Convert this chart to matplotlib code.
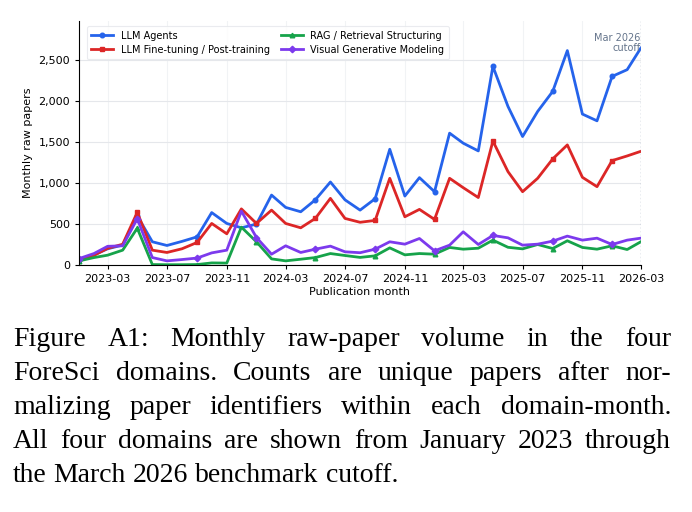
import numpy as np
import pandas as pd
import matplotlib
matplotlib.use('Agg')
import matplotlib.pyplot as plt
import matplotlib.dates as mdates
from matplotlib.ticker import FuncFormatter

# Monthly raw-paper counts, Jan 2023 .. Mar 2026
months = pd.date_range('2023-01-01', '2026-03-01', freq='MS')

llm_agents = [60, 125, 200, 245, 600, 285, 240, 290, 345, 640,
              508, 455, 500, 853, 703, 650, 795, 1012, 795, 670,
              809, 1410, 841, 1065, 894, 1606, 1484, 1390, 2418, 1931,
              1565, 1870, 2114, 2610, 1838, 1756, 2296, 2378, 2640]
llm_finetune = [70, 120, 205, 255, 643, 183, 155, 200, 277, 508,
                382, 685, 508, 670, 508, 455, 569, 813, 569, 522,
                545, 1057, 589, 679, 557, 1057, 943, 823, 1510, 1138,
                894, 1057, 1293, 1463, 1069, 955, 1272, 1329, 1385]
rag = [52, 93, 122, 183, 450, 8, 6, 6, 8, 28,
       26, 463, 285, 77, 53, 73, 93, 142, 118, 95,
       114, 211, 126, 142, 134, 216, 195, 207, 305, 218,
       199, 252, 203, 297, 216, 195, 236, 191, 285]
visual_gen = [80, 142, 230, 236, 565, 93, 53, 69, 87, 150,
              183, 658, 337, 134, 236, 155, 195, 232, 163, 152,
              195, 285, 256, 325, 175, 244, 406, 252, 362, 333,
              244, 256, 293, 354, 305, 329, 252, 305, 329]

SERIES = [
    ('LLM Agents', llm_agents, '#2563eb', 'o'),
    ('LLM Fine-tuning / Post-training', llm_finetune, '#dc2626', 's'),
    ('RAG / Retrieval Structuring', rag, '#16a34a', '^'),
    ('Visual Generative Modeling', visual_gen, '#7c3aed', 'D'),
]

CAPTION = [
    "Figure A1:  Monthly raw-paper volume in the four",
    "ForeSci domains. Counts are unique papers after nor-",
    "malizing paper identifiers within each domain-month.",
    "All four domains are shown from January 2023 through",
    "the March 2026 benchmark cutoff.",
]
CAPTION_SIZE = 20

fig = plt.figure(figsize=(6.92, 5.12), dpi=100)
ax = fig.add_axes([0.114, 0.482, 0.812, 0.477])

for name, vals, color, marker in SERIES:
    ax.plot(months, vals, color=color, linewidth=2, marker=marker,
            markersize=3.3, markevery=4, label=name)

cutoff = months[-1]
ax.axvline(cutoff, color='#94a3b8', linestyle=':', linewidth=1)
ax.text(cutoff, 2700, 'Mar 2026\ncutoff', ha='right', va='center',
        fontsize=7, color='#64748b', linespacing=1.05)

ax.set_xlim(months[0], months[-1])
ax.set_ylim(0, 2970)
ax.set_yticks([0, 500, 1000, 1500, 2000, 2500])
ax.yaxis.set_major_formatter(FuncFormatter(lambda v, p: f'{v:,.0f}'))
ax.xaxis.set_major_locator(mdates.MonthLocator(bymonth=[3, 7, 11]))
ax.xaxis.set_major_formatter(mdates.DateFormatter('%Y-%m'))
ax.tick_params(labelsize=8, length=3, width=0.8)

ax.grid(axis='y', color='#e5e7eb', linewidth=0.8)
ax.grid(axis='x', color='#f1f3f5', linewidth=0.8)
ax.set_axisbelow(True)
for side in ('top', 'right'):
    ax.spines[side].set_visible(False)

ax.set_xlabel('Publication month', fontsize=8, labelpad=2)
ax.set_ylabel('Monthly raw papers', fontsize=8)

leg = ax.legend(loc='upper left', ncol=2, fontsize=7, frameon=True,
                borderpad=0.5, handlelength=2.2, columnspacing=1.2,
                labelspacing=0.4, bbox_to_anchor=(0.005, 1.0))
leg.get_frame().set_edgecolor('#e5e7eb')
leg.get_frame().set_linewidth(0.8)

# justified caption below the chart
renderer = fig.canvas.get_renderer()
left_px, right_px = 13, 671
W, H = 692, 512
baselines = [346, 380, 414, 448, 482]
for i, line in enumerate(CAPTION):
    words = line.replace('  ', ' ').split(' ')
    texts = []
    widths = []
    for w in words:
        t = fig.text(0, 0, w, fontsize=CAPTION_SIZE, family='Liberation Serif',
                     va='baseline', ha='left')
        widths.append(t.get_window_extent(renderer).width)
        texts.append(t)
    if i == len(CAPTION) - 1:
        gap = 0.25 * CAPTION_SIZE * 100 / 72
    else:
        gap = (right_px - left_px - sum(widths)) / (len(words) - 1)
    x = left_px
    for t, wdt in zip(texts, widths):
        t.set_position((x / W, 1 - baselines[i] / H))
        x += wdt + gap

fig.savefig('out.png', dpi=100)
